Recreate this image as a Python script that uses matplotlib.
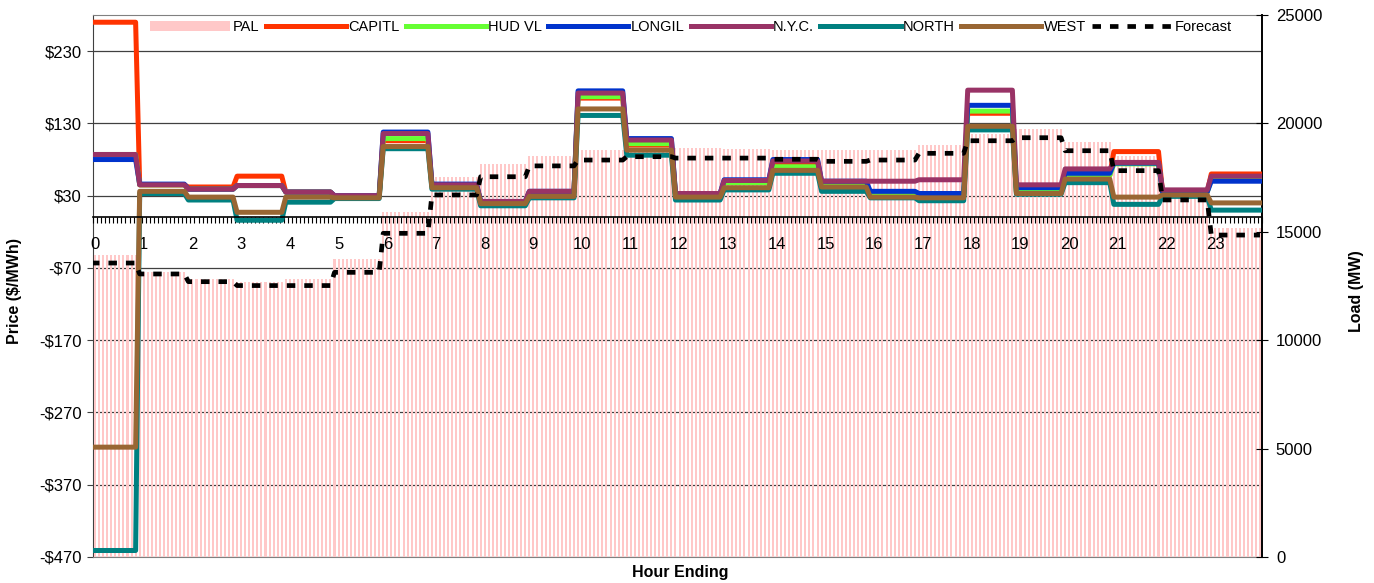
import matplotlib.pyplot as plt
import numpy as np
from matplotlib.ticker import FuncFormatter

plt.rcParams['font.family'] = ['Liberation Sans', 'DejaVu Sans']

# hourly values (hour ending 0..23), shown at 5-minute resolution
hour_labels = [str(h) for h in range(24)]
pal = [13930, 13160, 12810, 12680, 12810, 13730, 15930, 17540, 18130, 18500, 18775, 18850,
       18850, 18820, 18775, 18775, 18775, 19000, 19500, 19730, 19160, 18500, 16700, 15160]
forecast = [13560, 13055, 12700, 12520, 12520, 13130, 14930, 16700, 17540, 18040, 18310, 18465,
            18400, 18400, 18345, 18250, 18310, 18620, 19200, 19340, 18740, 17820, 16470, 14850]
capitl = [270, 45, 42, 57, 35, 29, 106, 44, 21, 35, 165, 100, 31, 48, 72, 46, 30, 29, 144, 35, 58, 91, 35, 60]
hudvl = [87, 45, 39, 44, 35, 29, 109, 44, 21, 35, 167, 102, 31, 48, 70, 46, 30, 29, 147, 35, 58, 74, 35, 52]
longil = [80, 46, 39, 44, 35, 30, 118, 46, 22, 36, 175, 109, 33, 52, 80, 50, 36, 33, 155, 41, 61, 75, 35, 50]
nyc = [87, 45, 39, 44, 35, 30, 116, 45, 22, 36, 172, 107, 33, 51, 78, 50, 50, 52, 176, 45, 67, 76, 38, 57]
north = [-461, 33, 24, -4, 21, 26, 95, 39, 16, 27, 141, 86, 24, 38, 61, 36, 27, 23, 121, 32, 48, 18, 29, 10]
west = [-318, 36, 28, 7, 28, 27, 98, 41, 19, 29, 150, 93, 28, 41, 65, 42, 28, 27, 126, 33, 53, 28, 31, 20]

series = [("CAPITL", capitl, "#FF3300"), ("HUD VL", hudvl, "#66FF33"), ("LONGIL", longil, "#0033CC"),
          ("N.Y.C.", nyc, "#993366"), ("NORTH", north, "#008080"), ("WEST", west, "#996633")]


def five_min(values):
    # each hourly value repeated for its 12 intervals, plus the final interval
    v = np.repeat(values, 12)
    return np.append(v, values[-1])


x = np.arange(289) - 0.5  # interval centres, value changes one interval before the hour mark

fig = plt.figure(figsize=(13.74, 5.83), dpi=100)
ax = fig.add_axes([93 / 1374, 26 / 583, 1169 / 1374, 542 / 583])
ax2 = ax.twinx()
ax3 = ax.twinx()
ax4 = ax.twinx()
ax.set_zorder(0)
ax2.set_zorder(1)
ax3.set_zorder(2)
ax4.set_zorder(3)
for a in (ax2, ax3, ax4):
    a.patch.set_visible(False)

# price axis (bottom layer with grid)
ax.set_ylim(-470, 280)
ax.set_xlim(0, 288)
ax.set_yticks(np.arange(-470, 231, 100))
ax.yaxis.set_major_formatter(FuncFormatter(lambda v, p: f"-${abs(v):.0f}" if v < 0 else f"${v:.0f}"))
ax.yaxis.grid(True, color="#404040", lw=0.9)
ax.tick_params(axis="y", direction="out", length=4.5, labelsize=12, color="#404040")
ax.tick_params(axis="x", bottom=False, labelbottom=False, which="both")
ax.spines["left"].set_color("#404040")
ax.spines["top"].set_color("#808080")
ax.spines["bottom"].set_color("#808080")
ax.spines["right"].set_visible(False)

# load axis with PAL bars
ax2.set_ylim(0, 25000)
ax2.set_yticks(np.arange(0, 25001, 5000))
bars = ax2.bar(x, five_min(pal), width=0.5, color="#FFC8C8", linewidth=0, label="PAL")
ax2.tick_params(axis="y", direction="inout", length=8, labelsize=12, pad=6)
for s in ("left", "top", "bottom"):
    ax2.spines[s].set_visible(False)
ax2.spines["right"].set_color("black")
ax2.spines["right"].set_linewidth(1.4)

# price lines
ax3.set_ylim(-470, 280)
ax3.yaxis.set_visible(False)
ax3.xaxis.set_visible(True)
for s in ("left", "top", "right"):
    ax3.spines[s].set_visible(False)
ax3.spines["bottom"].set_position(("data", 0))
ax3.spines["bottom"].set_color("black")
ax3.spines["bottom"].set_linewidth(1.2)
ax3.set_xticks(np.arange(0, 289), minor=True)
ax3.set_xticks(np.arange(24) * 12 + 0.5)
ax3.set_xticklabels(hour_labels)
ax3.tick_params(axis="x", which="minor", direction="out", length=4, width=0.8, color="black")
ax3.tick_params(axis="x", which="major", length=0, pad=14, labelsize=12)
lines = []
for name, vals, col in series:
    ln, = ax3.plot(x, five_min(vals), color=col, lw=3.6, solid_joinstyle="round", label=name)
    lines.append(ln)
ax.set_xlim(0, 288)

# forecast load
ax4.set_ylim(0, 25000)
ax4.yaxis.set_visible(False)
for s in ax4.spines.values():
    s.set_visible(False)
fc, = ax4.plot(x, five_min(forecast), color="black", lw=3.4, linestyle=(0, (1.8, 1.9)), label="Forecast")

ax4.legend([bars] + lines + [fc], ["PAL"] + [s[0] for s in series] + ["Forecast"],
           loc="center left", bbox_to_anchor=(0.044, 0.978, 0.935, 0.0), mode="expand",
           ncol=8, frameon=False, handlelength=5.5, handletextpad=0.15, fontsize=10.5,
           borderaxespad=0)

fig.text(15 / 1374, 0.5, "Price ($/MWh)", rotation=90, ha="center", va="center",
         fontsize=11.5, fontweight="bold")
fig.text(1357 / 1374, 0.5, "Load (MW)", rotation=90, ha="center", va="center",
         fontsize=11.5, fontweight="bold")
fig.text(680 / 1374, 1 - 572 / 583, "Hour Ending", ha="center", va="center",
         fontsize=11.5, fontweight="bold")

fig.savefig("out.png", dpi=100)
